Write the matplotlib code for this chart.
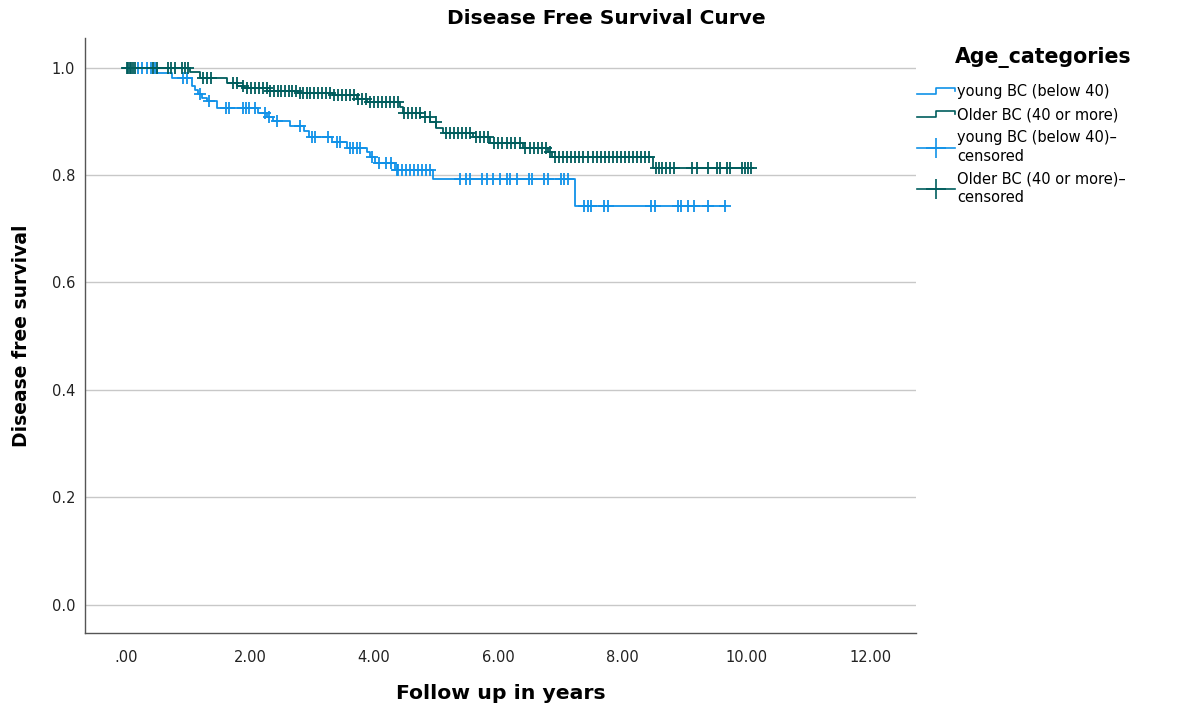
import numpy as np
import matplotlib
matplotlib.use("Agg")
import matplotlib.pyplot as plt
from matplotlib.lines import Line2D
from matplotlib.legend_handler import HandlerBase

# Kaplan-Meier steps (time in years, survival after the drop)
young_event_t = [0.50, 0.74, 1.06, 1.11, 1.16, 1.23, 1.31, 1.47, 2.13, 2.27, 2.37,
                 2.65, 2.87, 2.95, 3.32, 3.56, 3.88, 3.93, 4.02, 4.34, 4.95, 7.24]
young_event_s = [0.989, 0.980, 0.965, 0.958, 0.951, 0.944, 0.938, 0.924, 0.915, 0.907, 0.900,
                 0.892, 0.882, 0.871, 0.861, 0.851, 0.842, 0.833, 0.823, 0.810, 0.793, 0.742]
young_censor_t = [0.19, 0.26, 0.34, 0.40, 0.47, 0.92, 0.98, 1.20, 1.34, 1.61, 1.66, 1.89,
                  1.94, 1.98, 2.08, 2.24, 2.30, 2.44, 2.81, 3.00, 3.05, 3.26, 3.40, 3.45,
                  3.61, 3.66, 3.72, 3.78, 3.97, 4.08, 4.20, 4.27, 4.37, 4.39, 4.45, 4.52,
                  4.58, 4.65, 4.71, 4.77, 4.84, 4.90, 5.39, 5.48, 5.55, 5.74, 5.82, 5.92,
                  6.03, 6.15, 6.19, 6.31, 6.50, 6.55, 6.74, 6.81, 7.02, 7.06, 7.13, 7.39,
                  7.45, 7.50, 7.71, 7.77, 8.47, 8.53, 8.90, 8.95, 9.06, 9.16, 9.39, 9.66]
young_end = 9.66

older_event_t = [1.03, 1.19, 1.63, 1.79, 1.90, 2.27, 2.80, 3.34, 3.72, 3.88, 4.42,
                 4.47, 4.74, 4.90, 5.00, 5.11, 5.60, 5.87, 6.40, 6.81, 6.87, 8.50]
older_event_s = [0.991, 0.981, 0.972, 0.966, 0.961, 0.956, 0.953, 0.948, 0.942, 0.935, 0.926,
                 0.916, 0.907, 0.898, 0.888, 0.879, 0.870, 0.860, 0.851, 0.842, 0.833, 0.812]
older_censor_t = [0.02, 0.04, 0.06, 0.08, 0.11, 0.14, 0.44, 0.50, 0.68, 0.73, 0.79, 0.90,
                  0.95, 1.00, 1.24, 1.31, 1.37, 1.73, 1.79, 1.89, 1.95, 2.02, 2.08, 2.15,
                  2.21, 2.27, 2.32, 2.39, 2.45, 2.50, 2.56, 2.63, 2.68, 2.74, 2.81, 2.85,
                  2.92, 2.97, 3.03, 3.10, 3.16, 3.23, 3.29, 3.35, 3.42, 3.48, 3.55, 3.61,
                  3.68, 3.74, 3.81, 3.87, 3.94, 4.00, 4.06, 4.13, 4.19, 4.26, 4.32, 4.39,
                  4.48, 4.55, 4.61, 4.68, 4.74, 4.82, 4.90, 5.00, 5.16, 5.23, 5.29, 5.35,
                  5.42, 5.48, 5.55, 5.65, 5.71, 5.77, 5.84, 5.94, 6.00, 6.06, 6.15, 6.21,
                  6.27, 6.35, 6.44, 6.52, 6.58, 6.65, 6.71, 6.77, 6.84, 6.92, 6.98, 7.05,
                  7.11, 7.18, 7.24, 7.31, 7.37, 7.45, 7.53, 7.60, 7.66, 7.73, 7.79, 7.85,
                  7.92, 7.98, 8.05, 8.11, 8.18, 8.24, 8.31, 8.37, 8.44, 8.55, 8.60, 8.65,
                  8.71, 8.77, 8.84, 9.13, 9.21, 9.39, 9.53, 9.58, 9.69, 9.74, 9.94, 9.98,
                  10.03, 10.08]
older_end = 10.08

group_labels = ["young BC (below 40)", "Older BC (40 or more)"]
censor_labels = ["young BC (below 40)–\ncensored", "Older BC (40 or more)–\ncensored"]
x_ticks = [0, 2, 4, 6, 8, 10, 12]
x_tick_labels = [".00", "2.00", "4.00", "6.00", "8.00", "10.00", "12.00"]
y_ticks = [0.0, 0.2, 0.4, 0.6, 0.8, 1.0]

BLUE = "#1192e8"
TEAL = "#005d5d"


def km_curve(event_t, event_s, end_t):
    t = np.concatenate([[0.0], event_t, [end_t]])
    s = np.concatenate([[1.0], event_s, [event_s[-1]]])
    return t, s


def surv_at(times, event_t, event_s):
    # survival value of the step function at each censor time
    ev_t = np.concatenate([[0.0], event_t])
    ev_s = np.concatenate([[1.0], event_s])
    idx = np.searchsorted(ev_t, times, side="left") - 1
    idx = np.clip(idx, 0, None)
    return ev_s[idx]


class StepHandler(HandlerBase):
    # little step icon like the SPSS legend
    def create_artists(self, legend, orig_handle, xdescent, ydescent,
                       width, height, fontsize, trans):
        xs = np.array([0.0, 0.5, 0.5, 1.0, 1.0]) * width - xdescent
        ys = np.array([0.2, 0.2, 0.8, 0.8, 0.45]) * height - ydescent
        ln = Line2D(xs, ys, color=orig_handle.get_color(), lw=1.2, transform=trans)
        return [ln]


plt.rcParams["font.family"] = ["DejaVu Sans"]

fig = plt.figure(figsize=(11.83, 7.11), dpi=100)
ax = fig.add_axes([85 / 1183, 1 - 633 / 711, (916 - 85) / 1183, (633 - 38) / 711])

yt, ys = km_curve(young_event_t, young_event_s, young_end)
ot, os_ = km_curve(older_event_t, older_event_s, older_end)

ax.step(yt, ys, where="post", color=BLUE, lw=1.3, zorder=3)
ax.plot(young_censor_t, surv_at(young_censor_t, young_event_t, young_event_s),
        ls="none", marker="+", ms=8, mew=1.3, color=BLUE, zorder=3)
ax.step(ot, os_, where="post", color=TEAL, lw=1.3, zorder=4)
ax.plot(older_censor_t, surv_at(older_censor_t, older_event_t, older_event_s),
        ls="none", marker="+", ms=8, mew=1.3, color=TEAL, zorder=4)

ax.set_xlim(-0.66, 12.74)
ax.set_ylim(-0.053, 1.055)
ax.set_xticks(x_ticks)
ax.set_xticklabels(x_tick_labels)
ax.set_yticks(y_ticks)
ax.set_yticklabels([f"{v:.1f}" for v in y_ticks])
ax.tick_params(length=0, labelsize=10.5, colors="#222222")
ax.tick_params(axis="x", pad=12)
ax.tick_params(axis="y", pad=7)
ax.yaxis.grid(True, color="#c8c8c8", lw=1.0)
ax.set_axisbelow(True)
for side in ["top", "right"]:
    ax.spines[side].set_visible(False)
for side in ["left", "bottom"]:
    ax.spines[side].set_color("#555555")
    ax.spines[side].set_linewidth(1.0)

ax.set_xlabel("Follow up in years", fontsize=14.7, fontweight="bold", labelpad=14)
ax.set_ylabel("Disease free survival", fontsize=13.5, fontweight="bold", labelpad=15)
fig.text(606 / 1183, 1 - 19 / 711, "Disease Free Survival Curve", fontsize=14.5,
         fontweight="bold", ha="center", va="center")
fig.text(955 / 1183, 1 - 58 / 711, "Age_categories", fontsize=14.8,
         fontweight="bold", ha="left", va="center")

handles = [Line2D([], [], color=BLUE), Line2D([], [], color=TEAL),
           Line2D([], [], color=BLUE, marker="+", ms=14, mew=1.2, lw=1.2),
           Line2D([], [], color=TEAL, marker="+", ms=14, mew=1.2, lw=1.2)]
leg = fig.legend(handles, group_labels + censor_labels,
                 handler_map={handles[0]: StepHandler(), handles[1]: StepHandler()},
                 loc="upper left", bbox_to_anchor=(917 / 1183, 1 - 84 / 711),
                 frameon=False, fontsize=10.5,
                 handlelength=2.6, handletextpad=0.15, labelspacing=0.55,
                 numpoints=1, borderaxespad=0, borderpad=0)
for t in leg.get_texts():
    t.set_linespacing(1.3)

fig.savefig("out.png", dpi=100)
